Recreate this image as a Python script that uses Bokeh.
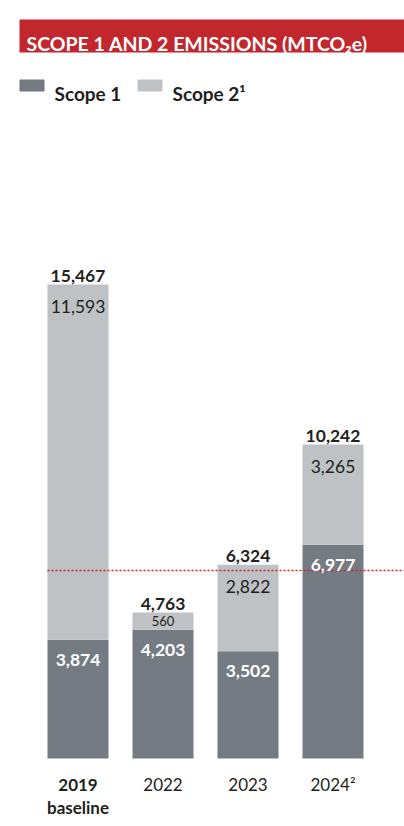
from bokeh.plotting import figure
from bokeh.models import Range1d, ColumnDataSource
from bokeh.core.properties import value
from bokeh.embed import file_html
from bokeh.resources import INLINE

# ---- data ----
years = ["2019", "2022", "2023", "2024\u00b2"]
year_notes = ["baseline", "", "", ""]
scope1 = [3874, 4203, 3502, 6977]
scope2 = [11593, 560, 2822, 3265]
totals = [15467, 4763, 6324, 10242]
target = 6135  # dotted reference line
series_names = ["Scope 1", "Scope 2\u00b9"]
title_text = "SCOPE 1 AND 2 EMISSIONS (MTCO\u2082e)"

# ---- style ----
RED = "#c1272d"
DARK = "#747b83"
LIGHT = "#bfc2c5"
INK = "#231f20"
FONT = value("Lato")

W, H = 404, 826
OFF = 0                # observed page offset
S = 474 / 15467.0      # px per unit
BASE = 758             # image y of zero line
UNIT = 85.0            # px per category
C0 = 77.5              # image x of first bar centre
BAR_W = 61 / UNIT


def X(px):
    return (px - C0) / UNIT


def Y(py):
    return (BASE - py) / S


p = figure(width=W, height=H, output_backend="svg", toolbar_location=None,
           x_range=Range1d(X(OFF), X(OFF + W)), y_range=Range1d(Y(OFF + H), Y(OFF)),
           min_border=0)
p.axis.visible = False
p.grid.visible = False
p.outline_line_color = None
p.background_fill_color = "white"

idx = list(range(len(years)))
src = ColumnDataSource(dict(x=idx, s1=scope1, s2=scope2, tot=totals,
                            year=years, note=year_notes))

p.vbar_stack(["s1", "s2"], x="x", width=BAR_W, color=[DARK, LIGHT],
             line_color=None, source=src)

# target dotted line from first bar's left edge to right edge
p.segment(x0=[idx[0] - BAR_W / 2], x1=[X(420)], y0=[target], y1=[target],
          line_color=RED, line_width=1.6, line_dash="2 2")

# title bar
p.quad(left=[X(19)], right=[X(420)], top=[Y(19)], bottom=[Y(52)],
       color=RED, line_color=None)
p.text(x=[X(26)], y=[Y(43)], text=[title_text], text_font=FONT,
       text_font_size="19.5px", text_font_style="bold", text_color="white",
       text_baseline="alphabetic", text_align="left")

# legend (manual)
p.quad(left=[X(19), X(137)], right=[X(44), X(162)], top=[Y(79), Y(79)],
       bottom=[Y(91), Y(91)], color=[DARK, LIGHT], line_color=None)
p.text(x=[X(54), X(172)], y=[Y(93), Y(93)], text=series_names, text_font=FONT,
       text_font_size="19px", text_font_style="bold", text_color=INK,
       text_baseline="alphabetic", text_align="left")

# totals above bars
p.text(x=idx, y=[t + 9 / S for t in totals], text=[f"{t:,}" for t in totals],
       text_font=FONT, text_font_size="17.5px", text_font_style="bold",
       text_color=INK, text_align="center", text_baseline="alphabetic")

# scope 2 labels
big = [i for i in idx if scope2[i] * S >= 30]
small = [i for i in idx if scope2[i] * S < 30]
p.text(x=big, y=[totals[i] - 22 / S for i in big],
       text=[f"{scope2[i]:,}" for i in big], text_font=FONT,
       text_font_size="17.5px", text_color=INK, text_align="center",
       text_baseline="alphabetic")
p.text(x=small, y=[(scope1[i] + totals[i]) / 2 for i in small],
       text=[f"{scope2[i]:,}" for i in small], text_font=FONT,
       text_font_size="13px", text_color=INK, text_align="center",
       text_baseline="middle")

# scope 1 labels
p.text(x=idx, y=[s - 20 / S for s in scope1], text=[f"{s:,}" for s in scope1],
       text_font=FONT, text_font_size="17.5px", text_font_style="bold",
       text_color="white", text_align="center", text_baseline="alphabetic")

# category labels
p.text(x=idx[:1], y=[Y(784)], text=years[:1], text_font=FONT,
       text_font_size="17px", text_font_style="bold", text_color=INK,
       text_align="center", text_baseline="alphabetic")
p.text(x=idx[1:], y=[Y(784)] * 3, text=years[1:], text_font=FONT,
       text_font_size="17px", text_color=INK, text_align="center",
       text_baseline="alphabetic")
p.text(x=idx[:1], y=[Y(807)], text=year_notes[:1], text_font=FONT,
       text_font_size="17px", text_font_style="bold", text_color=INK,
       text_align="center", text_baseline="alphabetic")

open("out.html", "w").write(file_html(p, INLINE))
